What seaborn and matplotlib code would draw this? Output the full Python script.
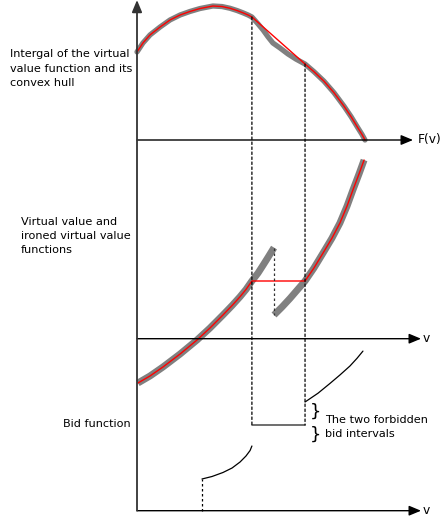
import numpy as np
import pandas as pd
import matplotlib
matplotlib.use("Agg")
import matplotlib.pyplot as plt
from matplotlib.patches import ConnectionPatch
import seaborn as sns

# ---------------- data (schematic values) ----------------
# Panel 1: integral of the virtual value function (gray) and its convex hull (red)
integral_x = [0.000, 0.026, 0.057, 0.101, 0.145, 0.189, 0.232, 0.276, 0.333, 0.373, 0.408, 0.439, 0.465,
              0.487, 0.504, 0.531, 0.553, 0.575, 0.596, 0.627, 0.662, 0.697, 0.737, 0.776, 0.820, 0.864,
              0.908, 0.939, 0.969, 0.987, 1.000]
integral_y = [0.657, 0.724, 0.784, 0.843, 0.896, 0.933, 0.959, 0.981, 1.000, 0.996, 0.983, 0.966, 0.949,
              0.933, 0.918, 0.866, 0.821, 0.769, 0.724, 0.687, 0.642, 0.604, 0.567, 0.510, 0.439, 0.353,
              0.252, 0.174, 0.090, 0.041, 0.000]
hull_from, hull_to = 0.504, 0.737

# Panel 2: virtual value (two gray branches) and ironed virtual value (red)
vv_low_x = [0.004, 0.057, 0.114, 0.189, 0.263, 0.320, 0.377, 0.417, 0.452, 0.478, 0.504, 0.531, 0.553,
            0.575, 0.601]
vv_low_y = [-0.768, -0.646, -0.490, -0.265, -0.023, 0.185, 0.411, 0.575, 0.728, 0.853, 1.000, 1.139,
            1.274, 1.412, 1.579]
vv_high_x = [0.601, 0.636, 0.671, 0.706, 0.737, 0.776, 0.816, 0.855, 0.890, 0.921, 0.947, 0.974, 0.996]
vv_high_y = [0.411, 0.549, 0.698, 0.858, 1.000, 1.225, 1.485, 1.742, 2.005, 2.296, 2.577, 2.858, 3.097]
ironed_level = 1.0

# Panel 3: bid function
bid_low_x = [0.285, 0.329, 0.377, 0.417, 0.452, 0.478, 0.496, 0.504]
bid_low_y = [0.317, 0.342, 0.382, 0.427, 0.487, 0.547, 0.602, 0.647]
bid_flat_y = 0.857
bid_high_x = [0.737, 0.794, 0.846, 0.890, 0.934, 0.965, 0.991]
bid_high_y = [1.087, 1.175, 1.272, 1.357, 1.447, 1.524, 1.596]

label_top = "Intergal of the virtual\nvalue function and its\nconvex hull"
label_mid = "Virtual value and\nironed virtual value\nfunctions"
label_bot = "Bid function"
label_forbidden = "The two forbidden\nbid intervals"

# ---------------- figure ----------------
sns.set_theme(style="white")
plt.rcParams["font.family"] = ["DejaVu Sans"]
plt.rcParams["text.color"] = "black"
W, H = 441, 518
fig = plt.figure(figsize=(W / 100, H / 100), dpi=100)

XL = (-10 / 228, 304 / 228)
ax_top = fig.add_axes([127 / W, 1 - 180 / H, 314 / W, 180 / H])
ax_mid = fig.add_axes([127 / W, 1 - 400 / H, 314 / W, 260 / H])
ax_bot = fig.add_axes([127 / W, 0, 314 / W, 178 / H])
ax_top.set_ylim(-40 / 134, 140 / 134)
ax_mid.set_ylim((338.7 - 400) / 57.7, (338.7 - 140) / 57.7)
ax_bot.set_ylim((510.7 - 518) / 100, (510.7 - 340) / 100)
for ax in (ax_top, ax_mid, ax_bot):
    ax.set_xlim(*XL)
    ax.set_axis_off()
    ax.patch.set_alpha(0)

GRAY = "#808080"
RED = "#ff0000"
fs = 8.1

def line(ax, x, y, **kw):
    df = pd.DataFrame({"x": x, "y": y})
    sns.lineplot(data=df, x="x", y="y", ax=ax, sort=False, estimator=None, legend=False, **kw)
    l = ax.lines[-1]
    l.set_clip_on(False)
    l.set_solid_joinstyle("round")
    return l

# top panel
line(ax_top, integral_x, integral_y, color=GRAY, lw=3.8)
hull_x = [x for x in integral_x if x <= hull_from or x >= hull_to]
hull_y = [y for x, y in zip(integral_x, integral_y) if x <= hull_from or x >= hull_to]
line(ax_top, hull_x, hull_y, color=RED, lw=1.0)

# middle panel
l1 = line(ax_mid, vv_low_x, vv_low_y, color=GRAY, lw=5.0)
l2 = line(ax_mid, vv_high_x, vv_high_y, color=GRAY, lw=5.0)
for l in (l1, l2):
    l.set_solid_capstyle("butt")
low_part = [(x, y) for x, y in zip(vv_low_x, vv_low_y) if x <= hull_from]
high_part = [(x, y) for x, y in zip(vv_high_x, vv_high_y) if x >= hull_to]
ironed_x = [p[0] for p in low_part + high_part]
ironed_y = [min(p[1], ironed_level) for p in low_part] + [max(p[1], ironed_level) for p in high_part]
line(ax_mid, ironed_x, ironed_y, color=RED, lw=1.0)
ax_mid.plot([vv_low_x[-1], vv_low_x[-1]], [vv_low_y[-1], vv_high_y[0]], color="#333333", lw=0.9,
            ls=(0, (2, 2)))

# bottom panel
line(ax_bot, bid_low_x, bid_low_y, color="black", lw=0.9)
line(ax_bot, bid_high_x, bid_high_y, color="black", lw=0.9)
ax_bot.plot([hull_from, hull_to], [bid_flat_y, bid_flat_y], color="#555555", lw=1.2)
ax_bot.plot([bid_low_x[0], bid_low_x[0]], [0, bid_low_y[0]], color="black", lw=0.9, ls=(0, (2, 2)))

# long dotted verticals across panels
for xv in (hull_from, hull_to):
    ytop = integral_y[integral_x.index(xv)]
    con = ConnectionPatch(xyA=(xv, ytop), coordsA=ax_top.transData,
                          xyB=(xv, bid_flat_y), coordsB=ax_bot.transData,
                          color="black", lw=0.9, ls=(0, (2, 2)))
    fig.add_artist(con)

# axes arrows
astyle = "-|>,head_length=0.6,head_width=0.25"
vaxis = ConnectionPatch(xyA=(0, 0), coordsA=ax_bot.transData,
                        xyB=(0, 140 / 134), coordsB=ax_top.transData,
                        color="#333333", lw=1.3, arrowstyle=astyle,
                        mutation_scale=12, shrinkA=0, shrinkB=0)
fig.add_artist(vaxis)
for ax, xend in [(ax_top, (413 - 137) / 228), (ax_mid, (421 - 137) / 228), (ax_bot, (421 - 137) / 228)]:
    ax.annotate("", xy=(xend, 0), xytext=(0, 0), annotation_clip=False,
                arrowprops=dict(arrowstyle=astyle, color="black",
                                lw=1.0, mutation_scale=12, shrinkA=0, shrinkB=0))

ax_top.text((418 - 137) / 228, 0, "F(v)", fontsize=fs + 0.7, va="center", ha="left", clip_on=False)
ax_mid.text((423 - 137) / 228, 0, "v", fontsize=fs + 0.7, va="center", ha="left", clip_on=False)
ax_bot.text((423 - 137) / 228, 0, "v", fontsize=fs + 0.7, va="center", ha="left", clip_on=False)

# braces and annotation text
ax_bot.text((315 - 137) / 228, 0.987, "}", fontsize=13, ha="center", va="center", clip_on=False)
ax_bot.text((315 - 137) / 228, 0.757, "}", fontsize=13, ha="center", va="center", clip_on=False)
ax_bot.text((325 - 137) / 228, 0.835, label_forbidden, fontsize=fs, ha="left", va="center",
            linespacing=1.45, clip_on=False)

fig.text(10 / W, 1 - 68.5 / H, label_top, fontsize=fs, ha="left", va="center", linespacing=1.55)
fig.text(21 / W, 1 - 236 / H, label_mid, fontsize=fs, ha="left", va="center", linespacing=1.5)
fig.text(131 / W, 1 - 424 / H, label_bot, fontsize=fs, ha="right", va="center")

fig.savefig("out.png", dpi=100)
